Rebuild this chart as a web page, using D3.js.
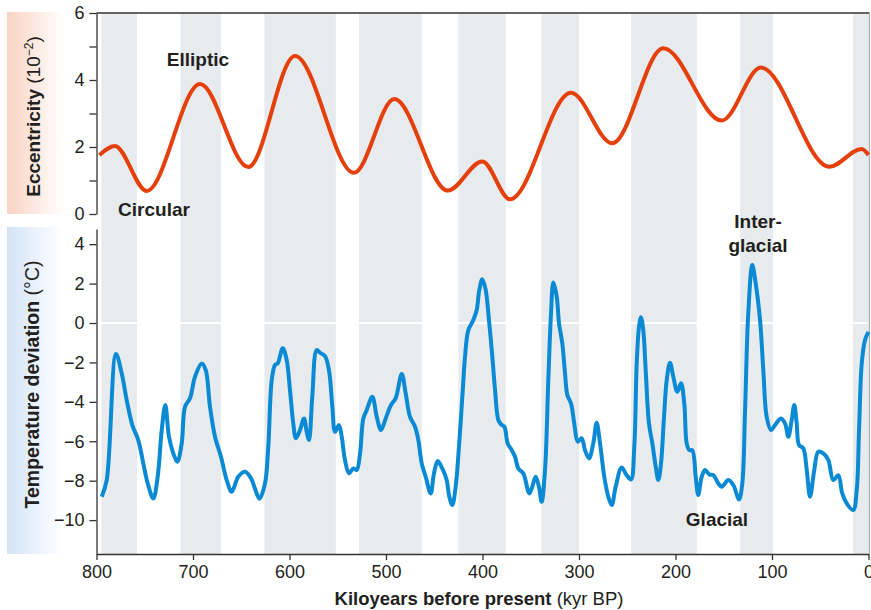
<!DOCTYPE html>
<head>
  <meta charset="utf-8">
  <script src="https://d3js.org/d3.v7.min.js"></script>
  <style>
    body { margin: 0; background: #fff; }
    svg text { font-family: "Liberation Sans", Arial, Helvetica, sans-serif; fill: #231f20; }
    .axis text { font-size: 18px; }
    .axis path, .axis line { stroke: #333; stroke-width: 1.3px; }
    .note { font-size: 19px; font-weight: bold; text-anchor: middle; }
  </style>
</head>
<body>
  <div id="vis"></div>
  <script>
    // ---- data ----
    // glacial/interglacial shading, kyr BP (start, end)
    var bandStart = [795, 713, 626, 528, 425, 339, 246, 133, 16];
    var bandEnd   = [758, 671, 552, 463, 376, 300, 178, 99, 0];

    // eccentricity (10^-2)
    var eccKyr = [797, 781, 748, 692.7, 642.7, 594.3, 533.2, 491.4, 436, 400.2, 371.5,
      308.3, 265.5, 212.6, 152.1, 111.4, 40.6, 7, 0];
    var eccVal = [1.76, 2.03, 0.69, 3.88, 1.40, 4.72, 1.23, 3.43, 0.70, 1.57, 0.44,
      3.62, 2.11, 4.95, 2.79, 4.37, 1.41, 1.94, 1.76];

    // temperature deviation (deg C)
    var tempKyr = [794.6, 789.4, 779.8, 773.9, 768.7, 762.9, 756.7, 751.5, 746.9, 741.1,
      736.6, 732.4, 728.7, 724.9, 720.4, 716.3, 711.7, 708.3, 703.1, 697.9,
      691.0, 686.8, 682.4, 677.2, 671.0, 665.1, 659.9, 653.1, 646.1, 639.9,
      635.8, 631.1, 625.4, 622.0, 618.4, 615.0, 612.2, 607.0, 602.9, 599.5,
      596.1, 593.3, 589.1, 585.0, 582.2, 579.8, 576.4, 571.8, 568.4, 563.2,
      559.1, 555.6, 552.8, 548.7, 545.9, 542.5, 538.3, 533.9, 530.4, 526.9,
      523.5, 520.0, 514.2, 509.6, 505.2, 500.3, 494.8, 490.0, 483.7, 479.6,
      475.1, 469.9, 466.5, 463.0, 458.9, 453.7, 450.3, 446.4, 441.7, 437.1,
      434.4, 431.3, 427.8, 424.4, 420.9, 418.1, 414.7, 409.5, 406.0, 403.3,
      400.2, 396.7, 393.3, 389.8, 387.0, 383.6, 380.8, 377.4, 373.9, 369.7,
      366.3, 362.9, 357.7, 351.5, 348.4, 344.9, 341.5, 338.7, 335.2, 331.8,
      329.0, 326.6, 323.1, 320.7, 317.3, 314.5, 312.1, 308.3, 304.9, 301.3,
      297.2, 293.8, 289.6, 285.2, 281.7, 278.2, 273.8, 269.6, 266.1, 262.0,
      255.8, 250.6, 246.1, 242.7, 240.2, 237.8, 235.8, 233.4, 230.9, 227.5,
      224.0, 220.5, 217.8, 215.0, 211.9, 209.1, 205.7, 202.3, 198.1, 194.3,
      190.9, 188.4, 185.7, 182.6, 179.1, 176.4, 172.8, 169.4, 165.0, 160.8,
      155.6, 152.1, 145.3, 140.1, 134.2, 130.8, 128.0, 124.6, 120.4, 116.9,
      112.4, 109.0, 105.5, 101.0, 96.9, 90.7, 86.5, 83.1, 79.6, 76.9,
      74.4, 72.0, 67.6, 64.0, 60.6, 56.2, 52.0, 46.8, 41.7, 36.5,
      31.3, 27.2, 22.6, 15.8, 12.2, 9.8, 7.0, 3.6, 0];
    var tempVal = [-8.82, -7.97, -1.57, -2.55, -3.91, -5.18, -5.94, -7.12, -8.14, -8.90,
      -7.80, -5.43, -4.16, -5.77, -6.62, -7.04, -6.11, -4.25, -3.82, -2.72,
      -2.05, -2.39, -4.25, -5.77, -6.79, -7.97, -8.56, -7.80, -7.55, -7.88,
      -8.40, -8.92, -8.14, -6.28, -2.89, -2.13, -2.05, -1.28, -1.88, -3.40,
      -5.09, -5.85, -5.43, -4.84, -5.52, -5.94, -3.74, -1.37, -1.51, -1.68,
      -2.39, -4.25, -5.52, -5.18, -5.77, -6.95, -7.63, -7.38, -7.46, -6.62,
      -4.84, -4.42, -3.74, -4.76, -5.43, -4.84, -4.16, -3.82, -2.59, -3.57,
      -4.76, -5.26, -5.94, -7.12, -7.80, -8.65, -7.63, -7.00, -7.38, -7.97,
      -8.82, -9.24, -8.31, -6.28, -3.74, -1.71, -0.36, 0.15, 0.66, 1.68,
      2.22, 1.68, 0.15, -1.71, -3.40, -4.92, -5.14, -5.26, -6.11, -6.45,
      -6.79, -7.38, -7.63, -8.65, -8.31, -7.80, -8.31, -9.07, -7.46, -2.89,
      0.49, 2.05, 1.34, -0.02, -1.03, -2.55, -3.65, -4.08, -5.09, -6.02,
      -5.85, -6.45, -6.87, -6.11, -5.06, -6.11, -7.80, -8.82, -9.24, -8.31,
      -7.33, -7.72, -7.94, -6.28, -2.05, -0.19, 0.29, -0.36, -2.39, -5.09,
      -6.11, -7.29, -7.97, -7.12, -4.76, -2.89, -2.01, -2.72, -3.49, -3.06,
      -4.08, -6.11, -6.45, -6.45, -7.80, -8.73, -7.80, -7.46, -7.68, -7.72,
      -8.14, -8.31, -7.97, -8.22, -8.95, -8.14, -4.58, 0.49, 2.94, 2.01,
      0.15, -2.39, -4.76, -5.43, -5.18, -4.84, -5.09, -5.77, -4.92, -4.16,
      -5.09, -6.19, -6.36, -7.46, -8.82, -7.46, -6.53, -6.62, -6.95, -7.97,
      -7.72, -8.65, -9.15, -9.49, -8.48, -5.43, -2.05, -0.86, -0.45];

    var xTicks = [800, 700, 600, 500, 400, 300, 200, 100, 0];
    var eccTicks = [0, 1, 2, 3, 4, 5, 6];
    var tempTicks = [-10, -8, -6, -4, -2, 0, 2, 4];

    // ---- layout ----
    var width = 871, height = 610;
    var left = 96.5, right = 868.5;
    var eccTop = 13, eccBottom = 214;
    var tempTop = 229, tempBottom = 554;

    var svg = d3.select("#vis").append("svg")
      .attr("width", width)
      .attr("height", height);

    var x = d3.scaleLinear().domain([800, 0]).range([left, right]);
    var yE = d3.scaleLinear().domain([0, 6]).range([eccBottom, eccTop]);
    var yT = d3.scaleLinear().domain([-11.72, 4.77]).range([tempBottom, tempTop]);

    // label backgrounds
    var defs = svg.append("defs");
    function grad(id, c) {
      var g = defs.append("linearGradient").attr("id", id)
        .attr("x1", "0%").attr("x2", "100%").attr("y1", "0%").attr("y2", "0%");
      g.append("stop").attr("offset", "0%").attr("stop-color", c);
      g.append("stop").attr("offset", "100%").attr("stop-color", "#ffffff");
    }
    grad("gE", "#f9d3c3");
    grad("gT", "#d3e3f7");
    svg.append("rect").attr("x", 7).attr("y", 12).attr("width", 57).attr("height", 202)
      .attr("fill", "url(#gE)");
    svg.append("rect").attr("x", 7).attr("y", 227).attr("width", 56).attr("height", 327)
      .attr("fill", "url(#gT)");

    // shaded bands
    svg.append("g").selectAll("rect")
      .data(bandStart)
      .enter().append("rect")
      .attr("x", function (d) { return x(d); })
      .attr("width", function (d, i) { return x(bandEnd[i]) - x(d); })
      .attr("y", eccTop)
      .attr("height", tempBottom - eccTop)
      .attr("fill", "#e7ebee");

    // zero line in temperature panel
    svg.append("line")
      .attr("x1", left).attr("x2", right)
      .attr("y1", yT(0)).attr("y2", yT(0))
      .attr("stroke", "#fff").attr("stroke-width", 2);

    // frame lines
    svg.append("line").attr("x1", left).attr("x2", right + 1)
      .attr("y1", eccTop).attr("y2", eccTop)
      .attr("stroke", "#333").attr("stroke-width", 1.3);
    svg.append("line").attr("x1", right + 0.8).attr("x2", right + 0.8)
      .attr("y1", eccTop).attr("y2", tempBottom)
      .attr("stroke", "#999").attr("stroke-width", 1);

    // axes
    var minus = function (d) { return String(d).replace("-", "\u2212"); };

    svg.append("g").attr("class", "axis")
      .attr("transform", "translate(" + left + ",0)")
      .call(d3.axisLeft(yE).tickValues(eccTicks).tickSize(7).tickSizeOuter(0).tickPadding(5)
        .tickFormat(function (d) { return d % 2 === 0 ? d : ""; }));

    svg.append("g").attr("class", "axis")
      .attr("transform", "translate(" + left + ",0)")
      .call(d3.axisLeft(yT).tickValues(tempTicks).tickSize(7).tickSizeOuter(0).tickPadding(5)
        .tickFormat(minus));

    svg.append("g").attr("class", "axis")
      .attr("transform", "translate(0," + tempBottom + ")")
      .call(d3.axisBottom(x).tickValues(xTicks).tickSize(6).tickSizeOuter(0).tickPadding(5));

    svg.selectAll(".axis .tick text").attr("fill", "#231f20");

    // curves
    var eccLine = d3.line()
      .x(function (d, i) { return x(eccKyr[i]); })
      .y(function (d) { return yE(d); })
      .curve(d3.curveMonotoneX);
    svg.append("path")
      .attr("d", eccLine(eccVal))
      .attr("fill", "none")
      .attr("stroke", "#e5400c")
      .attr("stroke-width", 4)
      .attr("stroke-linejoin", "round");

    var tempLine = d3.line()
      .x(function (d, i) { return x(tempKyr[i]); })
      .y(function (d) { return yT(d); })
      .curve(d3.curveCatmullRom.alpha(0.5));
    svg.append("path")
      .attr("d", tempLine(tempVal))
      .attr("fill", "none")
      .attr("stroke", "#0a8ad4")
      .attr("stroke-width", 4)
      .attr("stroke-linejoin", "round");

    // axis titles
    var tE = svg.append("text")
      .attr("transform", "translate(39.5," + ((eccTop + eccBottom) / 2 + 3) + ") rotate(-90)")
      .attr("text-anchor", "middle")
      .style("font-size", "19px");
    tE.append("tspan").style("font-weight", "bold").text("Eccentricity");
    tE.append("tspan").text(" (10");
    tE.append("tspan").attr("dy", -7).style("font-size", "12px").text("−2");
    tE.append("tspan").attr("dy", 7).text(")");

    var tT = svg.append("text")
      .attr("transform", "translate(38.5," + ((tempTop + tempBottom) / 2 - 7) + ") rotate(-90)")
      .attr("text-anchor", "middle")
      .style("font-size", "19.5px");
    tT.append("tspan").style("font-weight", "bold").text("Temperature deviation");
    tT.append("tspan").text(" (°C)");

    var tX = svg.append("text")
      .attr("x", 479)
      .attr("y", 605)
      .attr("text-anchor", "middle")
      .style("font-size", "18.5px");
    tX.append("tspan").style("font-weight", "bold").text("Kiloyears before present");
    tX.append("tspan").text(" (kyr BP)");

    // annotations
    svg.append("text").attr("class", "note").attr("x", 198).attr("y", 66).text("Elliptic");
    svg.append("text").attr("class", "note").attr("x", 154).attr("y", 216).text("Circular");
    svg.append("text").attr("class", "note").attr("x", 758).attr("y", 228).text("Inter-");
    svg.append("text").attr("class", "note").attr("x", 758).attr("y", 252).text("glacial");
    svg.append("text").attr("class", "note").attr("x", 717).attr("y", 526).text("Glacial");
  </script>
</body>
